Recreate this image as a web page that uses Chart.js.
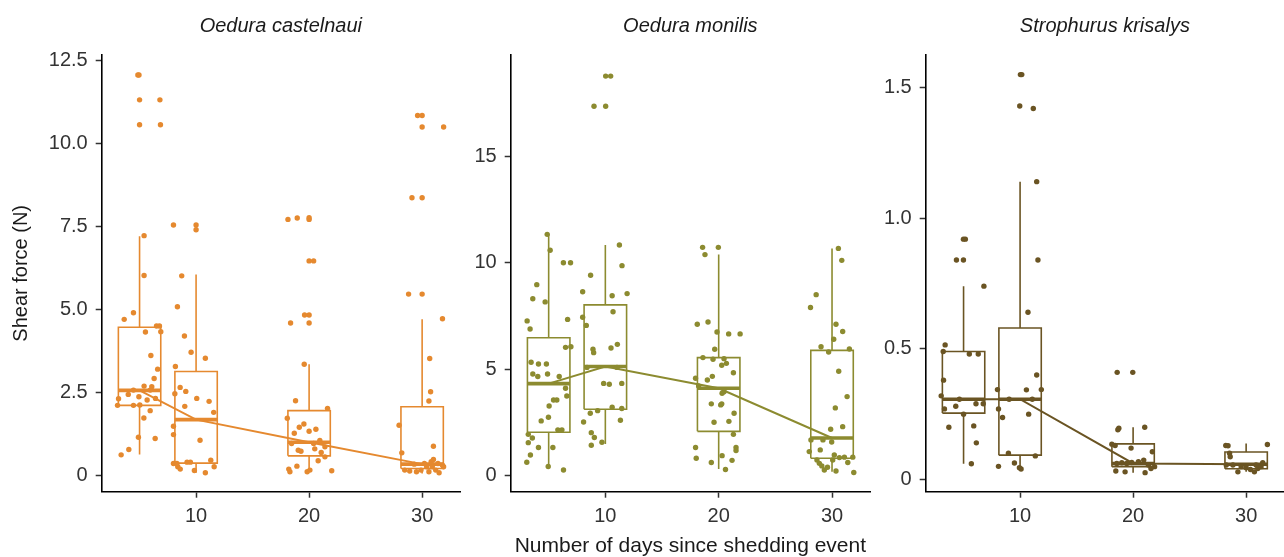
<!DOCTYPE html>
<html>
<head>
<meta charset="utf-8">
<script src="https://cdn.jsdelivr.net/npm/chart.js@4.4.1/dist/chart.umd.min.js"></script>
<style>
  html, body { margin: 0; padding: 0; background: #fff; }
  #wrap { position: relative; width: 1284px; height: 557px; overflow: hidden; }
  canvas { position: absolute; top: 0; }
</style>
</head>
<body>
<div id="wrap">
  <canvas id="c1" width="464" height="557" style="left:0px"></canvas>
  <canvas id="c2" width="414" height="557" style="left:460px"></canvas>
  <canvas id="c3" width="418" height="557" style="left:870px"></canvas>
</div>
<script>
// box positions (days since shedding) and x ticks
const days = [5, 10, 20, 30];
const xTicks = [10, 20, 30];

// Oedura castelnaui
const castelnauiLow  = [0.64, 0.09, 0.12, 0.07];
const castelnauiQ1   = [2.12, 0.38, 0.60, 0.22];
const castelnauiMed  = [2.57, 1.69, 1.01, 0.35];
const castelnauiQ3   = [4.47, 3.14, 1.96, 2.08];
const castelnauiHigh = [7.21, 6.06, 3.36, 4.71];
const castelnauiTicks = [0, 2.5, 5, 7.5, 10, 12.5];
const castelnauiX = [4.85,4.95,5.0,6.8,5.0,6.85,5.4,5.4,3.64,4.46,5.52,6.5,6.76,6.88,6.0,6.6,6.29,5.4,6.08,3.14,4.0,4.94,5.67,6.41,3.05,4.46,5.02,5.94,5.38,4.9,6.38,4.05,3.37,4.46,5.94,
  8.0,10.0,10.0,8.73,8.35,8.97,9.56,10.82,8.17,8.59,9.09,8.12,10.06,11.15,9.0,11.56,8.0,8.0,10.35,8.0,8.38,8.6,9.2,9.5,9.85,10.82,11.3,11.6,8.3,
  18.13,18.95,20.0,20.0,20.0,20.4,18.36,19.6,20.0,20.0,19.57,18.8,21.63,18.07,19.54,19.13,18.69,20.0,20.6,20.95,18.45,20.4,19.04,19.28,20.5,21.4,21.07,21.4,20.8,18.92,18.2,18.3,19.83,20.07,22.0,
  29.6,30.0,30.0,31.9,29.1,30.0,28.8,30.0,31.8,30.67,30.75,30.6,27.96,31.0,28.2,28.46,28.9,29.5,29.9,30.4,30.8,31.0,30.9,31.2,31.5,31.8,31.9,31.4,30.6,30.2,29.3];
const castelnauiY = [12.07,12.07,11.32,11.32,10.57,10.57,7.23,6.03,4.71,4.91,4.33,4.51,4.51,4.34,3.62,3.21,2.93,2.7,2.68,2.32,2.45,2.38,2.28,2.33,2.12,2.12,2.13,1.96,1.74,1.16,1.12,0.79,0.63,2.58,2.58,
  7.55,7.55,7.41,6.02,5.09,4.21,3.72,3.54,3.29,2.66,2.54,2.47,2.33,2.24,2.09,1.91,1.49,1.24,1.07,0.37,0.27,0.2,0.41,0.41,0.16,0.09,0.47,0.27,0.37,
  7.72,7.76,7.77,7.72,6.47,6.47,4.6,4.84,4.84,4.6,3.36,2.26,2.03,1.73,1.56,1.46,1.28,1.34,1.4,1.06,0.97,0.97,0.77,0.74,0.81,0.87,0.7,0.57,0.45,0.29,0.2,0.12,0.12,0.17,0.15,
  10.85,10.85,10.5,10.5,8.37,8.37,5.47,5.47,4.73,3.53,2.53,2.25,1.52,0.89,0.69,0.17,0.14,0.12,0.17,0.27,0.42,0.49,0.27,0.17,0.09,0.32,0.27,0.37,0.12,0.37,0.35];

// Oedura monilis
const monilisLow  = [0.44, 1.5, 0.33, 0.2];
const monilisQ1   = [2.05, 3.13, 2.09, 0.83];
const monilisMed  = [4.33, 5.13, 4.11, 1.78];
const monilisQ3   = [6.48, 8.02, 5.55, 5.89];
const monilisHigh = [11.33, 10.83, 10.38, 10.67];
const monilisTicks = [0, 5, 10, 15];
const monilisX = [4.87,5.13,6.3,6.93,3.95,3.6,4.69,3.1,3.36,6.67,6.49,6.96,3.45,4.1,4.8,3.6,4.04,4.9,5.93,6.49,6.6,5.43,5.72,5.04,4.98,4.34,5.81,6.17,3.2,3.56,3.2,4.1,5.37,3.39,3.07,4.96,6.31,
  10.03,10.47,9.0,10.03,11.24,11.47,8.7,8.0,10.6,11.92,10.68,8.0,8.32,8.91,8.97,10.5,11.06,9.85,10.35,11.45,8.67,9.32,10.6,11.45,8.08,11.33,8.76,9.03,8.76,9.7,8.38,11.03,
  18.58,18.79,19.97,18.11,19.06,19.85,20.88,21.89,19.65,18.61,19.5,20.47,20.27,20.68,21.3,17.96,19.0,19.44,18.23,20.47,20.3,19.35,20.18,20.27,21.36,19.59,20.9,21.3,17.96,21.53,21.53,18.02,19.35,20.3,21.18,20.6,
  30.56,30.86,28.6,28.1,30.35,30.94,30.15,29.03,29.7,31.53,30.59,31.33,30.29,29.88,30.94,28.14,29.2,29.97,27.99,28.96,28.67,28.88,29.1,29.32,29.6,30.06,30.35,30.65,31.09,31.39,31.83,31.92,30.2];
const monilisY = [11.33,10.58,10.0,10.0,8.97,8.31,8.16,7.27,6.89,7.34,6.03,6.06,5.33,5.25,5.25,4.78,4.66,4.78,4.66,4.11,3.75,3.56,3.56,3.28,2.75,2.58,2.16,2.16,1.95,1.78,1.56,1.33,1.33,0.98,0.64,0.44,0.28,
  18.75,18.75,17.34,17.34,10.83,9.86,9.41,8.64,8.45,8.55,7.7,7.44,7.06,5.94,5.78,6.0,6.17,4.34,4.3,4.34,2.94,3.06,3.22,3.16,2.53,2.61,2.03,1.8,1.44,1.58,5.09,5.09,
  10.72,10.38,10.72,7.11,7.22,6.75,6.66,6.66,5.94,5.55,5.47,5.5,5.19,5.28,4.84,4.58,4.5,4.67,4.22,3.95,3.88,3.38,3.33,3.38,2.94,2.52,2.56,1.95,1.33,1.33,1.19,0.83,0.63,0.95,0.73,0.3,
  10.67,10.11,8.5,7.9,7.11,6.77,6.41,6.06,5.81,5.95,4.91,3.72,3.19,2.19,2.31,1.69,1.69,1.59,1.14,1.22,0.75,0.59,0.47,0.28,0.41,0.75,0.23,0.86,0.88,0.63,0.88,0.16,0.98];

// Strophurus krisalys
const krisalysLow  = [0.06, 0.042, 0.026, 0.029];
const krisalysQ1   = [0.254, 0.093, 0.049, 0.041];
const krisalysMed  = [0.307, 0.307, 0.061, 0.058];
const krisalysQ3   = [0.49, 0.58, 0.136, 0.105];
const krisalysHigh = [0.74, 1.14, 0.2, 0.138];
const krisalysTicks = [0, 0.5, 1.0, 1.5];
const krisalysX = [4.99,5.16,4.37,4.99,6.8,3.37,3.2,5.51,6.3,3.23,3.02,3.31,4.31,6.1,6.74,5.0,3.7,5.9,6.13,5.69,4.63,
  10.03,10.15,9.97,11.17,11.47,11.58,10.7,11.47,8.0,10.56,11.88,8.09,10.76,8.45,8.97,11.35,8.09,9.5,9.94,10.09,9.03,11.08,
  18.59,19.97,18.65,18.74,21.03,18.12,18.41,19.82,21.7,18.56,19.0,19.44,19.88,20.47,20.94,21.35,21.9,21.58,18.47,19.29,21.06,
  28.2,28.4,31.88,28.53,28.59,28.24,28.83,29.27,29.56,30.0,30.38,30.73,31.03,31.32,31.47,30.88];
const krisalysY = [0.92,0.92,0.84,0.84,0.74,0.515,0.49,0.48,0.48,0.38,0.32,0.27,0.28,0.29,0.29,0.25,0.2,0.205,0.14,0.06,0.307,
  1.55,1.55,1.43,1.42,1.14,0.84,0.64,0.4,0.344,0.343,0.344,0.27,0.25,0.237,0.1,0.09,0.05,0.063,0.045,0.04,0.307,0.307,
  0.41,0.41,0.19,0.196,0.2,0.135,0.13,0.12,0.106,0.061,0.064,0.061,0.065,0.068,0.074,0.055,0.049,0.042,0.032,0.029,0.026,
  0.13,0.129,0.134,0.1,0.087,0.055,0.055,0.029,0.049,0.045,0.038,0.029,0.042,0.049,0.064,0.055];

const BOX_HALF = 1.875;   // half box width, in days
const X_MIN = 1.65, X_MAX = 33.35;
const AXIS_H = 65.3;

Chart.defaults.font.family = "'Liberation Sans', Arial, sans-serif";
Chart.defaults.color = '#333';

function boxData(q1, q3) {
  const out = [];
  days.forEach((d, i) => {
    out.push({x: d - BOX_HALF, y: q1[i]}, {x: d + BOX_HALF, y: q1[i]},
             {x: d + BOX_HALF, y: q3[i]}, {x: d - BOX_HALF, y: q3[i]},
             {x: d - BOX_HALF, y: q1[i]}, {x: d, y: null});
  });
  return out;
}
function medianData(med) {
  const out = [];
  days.forEach((d, i) => out.push({x: d - BOX_HALF, y: med[i]}, {x: d + BOX_HALF, y: med[i]}, {x: d, y: null}));
  return out;
}
function whiskerData(lo, q1, q3, hi) {
  const out = [];
  days.forEach((d, i) => out.push({x: d, y: q3[i]}, {x: d, y: hi[i]}, {x: d, y: null},
                                  {x: d, y: q1[i]}, {x: d, y: lo[i]}, {x: d, y: null}));
  return out;
}

function makePanel(id, p) {
  const lineDs = (data, w, order) => ({
    data, showLine: true, borderColor: p.color, borderWidth: w, pointRadius: 0,
    spanGaps: false, borderJoinStyle: 'miter', borderCapStyle: 'butt', order
  });
  new Chart(document.getElementById(id), {
    type: 'scatter',
    data: {
      datasets: [
        { data: p.xs.map((x, i) => ({x, y: p.ys[i]})), pointRadius: 2.7, pointBorderWidth: 0,
          pointBackgroundColor: p.color, order: 0 },
        lineDs(days.map((d, i) => ({x: d, y: p.med[i]})), 2, 1),
        lineDs(medianData(p.med), 3.6, 2),
        lineDs(boxData(p.q1, p.q3), 1.6, 3),
        lineDs(whiskerData(p.lo, p.q1, p.q3, p.hi), 1.6, 4)
      ]
    },
    options: {
      responsive: false,
      animation: false,
      layout: { padding: 0 },
      plugins: {
        legend: { display: false },
        tooltip: { enabled: false },
        title: {
          display: true, text: p.title, fullSize: false, color: '#1a1a1a',
          font: { size: 20, style: 'italic', weight: 'normal' }, padding: { top: 14.5, bottom: 16.5 }
        }
      },
      scales: {
        x: {
          type: 'linear', min: X_MIN, max: X_MAX,
          afterBuildTicks: s => { s.ticks = xTicks.map(v => ({value: v})); },
          afterFit: s => { s.height = AXIS_H; s.paddingLeft = 0; s.paddingRight = 0; },
          ticks: { font: { size: 20 }, color: '#333', padding: 7, maxRotation: 0 },
          grid: { drawOnChartArea: false, drawTicks: true, tickLength: 6, tickWidth: 1.5, tickColor: '#333' },
          border: { display: true, color: '#000', width: 1.6 },
          title: p.xTitle ? { display: true, text: p.xTitle, color: '#1a1a1a',
                   font: { size: 21, lineHeight: 1 }, padding: { top: 0, bottom: 0.5 } } : { display: false }
        },
        y: {
          min: p.yMin, max: p.yMax,
          afterBuildTicks: s => { s.ticks = p.yTicks.map(v => ({value: v})); },
          afterFit: s => { s.width = p.yWidth; s.paddingTop = 0; s.paddingBottom = 0; },
          ticks: { font: { size: 20 }, color: '#333', padding: 8,
                   callback: v => v === 0 ? '0' : (p.decimals ? v.toFixed(1) : String(v)) },
          grid: { drawOnChartArea: false, drawTicks: true, tickLength: 6, tickWidth: 1.5, tickColor: '#333' },
          border: { display: true, color: '#000', width: 1.6 },
          title: p.yTitle ? { display: true, text: p.yTitle, color: '#1a1a1a',
                   font: { size: 20 }, padding: { top: 9, bottom: 0 } } : { display: false }
        }
      }
    }
  });
}

makePanel('c1', {
  title: 'Oedura castelnaui', color: '#E5892F',
  lo: castelnauiLow, q1: castelnauiQ1, med: castelnauiMed, q3: castelnauiQ3, hi: castelnauiHigh,
  xs: castelnauiX, ys: castelnauiY, yTicks: castelnauiTicks, decimals: true,
  yMin: -0.48, yMax: 12.67, yWidth: 101.7, yTitle: 'Shear force (N)'
});
makePanel('c2', {
  title: 'Oedura monilis', color: '#8C8B30',
  lo: monilisLow, q1: monilisQ1, med: monilisMed, q3: monilisQ3, hi: monilisHigh,
  xs: monilisX, ys: monilisY, yTicks: monilisTicks, decimals: false,
  yMin: -0.74, yMax: 19.74, yWidth: 50.7, xTitle: 'Number of days since shedding event'
});
makePanel('c3', {
  title: 'Strophurus krisalys', color: '#6A5423',
  lo: krisalysLow, q1: krisalysQ1, med: krisalysMed, q3: krisalysQ3, hi: krisalysHigh,
  xs: krisalysX, ys: krisalysY, yTicks: krisalysTicks, decimals: true,
  yMin: -0.047, yMax: 1.625, yWidth: 55.7
});
</script>
</body>
</html>
